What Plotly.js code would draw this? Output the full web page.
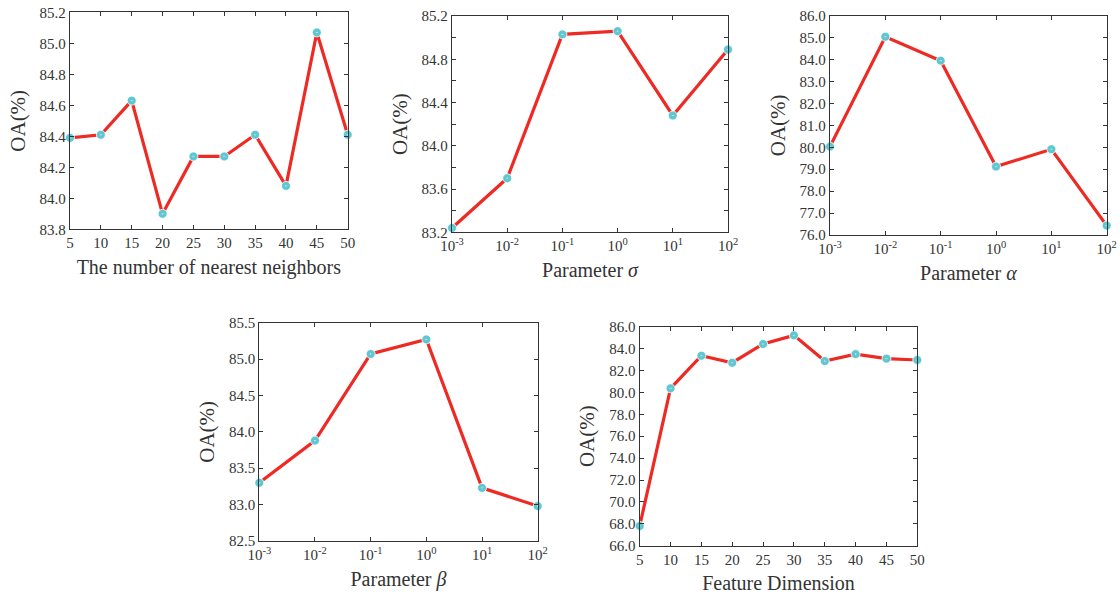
<!DOCTYPE html>
<html>
<head>
<meta charset="utf-8">
<script src="https://cdn.plot.ly/plotly-3.0.1.min.js"></script>
<style>html,body{margin:0;padding:0;background:#fff;}#chart{width:1120px;height:598px;}</style>
</head>
<body>
<div id="chart"></div>
<script>
// ---- data ----
const neighbors = [5, 10, 15, 20, 25, 30, 35, 40, 45, 50];
const oaNeighbors = [84.39, 84.41, 84.63, 83.90, 84.27, 84.27, 84.41, 84.08, 85.07, 84.41];

const paramValues = [0.001, 0.01, 0.1, 1, 10, 100];
const paramTickText = ['10<sup>-3</sup>', '10<sup>-2</sup>', '10<sup>-1</sup>', '10<sup>0</sup>', '10<sup>1</sup>', '10<sup>2</sup>'];
const oaSigma = [83.24, 83.70, 85.03, 85.06, 84.28, 84.89];
const oaAlpha = [80.03, 85.04, 83.95, 79.12, 79.91, 76.43];
const oaBeta = [83.30, 83.88, 85.07, 85.27, 83.23, 82.98];

const featureDims = [5, 10, 15, 20, 25, 30, 35, 40, 45, 50];
const oaFeature = [67.8, 80.37, 83.35, 82.71, 84.42, 85.21, 82.86, 83.50, 83.08, 82.96];

const xTitles = ['The number of nearest neighbors', 'Parameter <i>σ</i>', 'Parameter <i>α</i>', 'Parameter <i>β</i>', 'Feature Dimension'];

// y tick settings per panel: [start, dtick, minor dtick or null]
const yRanges = [[83.8, 85.2], [83.2, 85.2], [76, 86], [82.5, 85.5], [66, 86]];
const yTickSteps = [0.2, 0.4, 1, 0.5, 2];
const yMinorSteps = [null, 0.2, null, null, null];

// ---- styling ----
const W = 1120, H = 598;
const FONT = 'Liberation Serif';
const AX = '#333333';
const lineStyle = {color: '#ee2a24', width: 3.2};
const markerStyle = {symbol: 'circle-dot', size: 9, color: '#5fc7d1', line: {color: '#ffffff', width: 0.8}};

// pixel boxes [x0,x1,y0,y1]
const boxes = [
  [70, 347.7, 12.3, 229.3],
  [452, 728, 16, 232.3],
  [830, 1106.7, 15.7, 235],
  [259.3, 537.7, 322.7, 541],
  [639.7, 917.3, 326.7, 545.7]
];

const series = [
  {x: neighbors, y: oaNeighbors, log: false},
  {x: paramValues, y: oaSigma, log: true},
  {x: paramValues, y: oaAlpha, log: true},
  {x: paramValues, y: oaBeta, log: true},
  {x: featureDims, y: oaFeature, log: false}
];

const traces = [];
const layout = {
  width: W, height: H,
  margin: {l: 0, r: 0, t: 0, b: 0},
  paper_bgcolor: '#fff', plot_bgcolor: '#fff',
  showlegend: false,
  font: {family: FONT, color: AX, size: 15}
};

series.forEach((s, i) => {
  const k = i === 0 ? '' : String(i + 1);
  traces.push({
    x: s.x, y: s.y, type: 'scatter', mode: 'lines+markers',
    xaxis: 'x' + k, yaxis: 'y' + k,
    line: lineStyle, marker: markerStyle, cliponaxis: false, hoverinfo: 'x+y'
  });
  const b = boxes[i];
  const common = {
    showline: true, linecolor: AX, linewidth: 1.3, mirror: 'ticks',
    ticks: 'inside', ticklen: 4, tickwidth: 1, tickcolor: AX,
    showgrid: false, zeroline: false,
    tickfont: {family: FONT, size: 15, color: AX}
  };
  const xa = Object.assign({}, common, {
    domain: [b[0] / W, b[1] / W],
    anchor: 'y' + k,
    title: {text: xTitles[i], font: {family: FONT, size: 20, color: AX}, standoff: 9}
  });
  if (s.log) {
    Object.assign(xa, {type: 'log', range: [-3, 2], tickmode: 'array', tickvals: paramValues, ticktext: paramTickText});
  } else {
    Object.assign(xa, {range: [5, 50], tickmode: 'array', tickvals: s.x, ticktext: s.x.map(String)});
  }
  const ya = Object.assign({}, common, {
    domain: [1 - b[3] / H, 1 - b[2] / H],
    anchor: 'x' + k,
    range: yRanges[i],
    tickmode: 'linear', tick0: yRanges[i][0], dtick: yTickSteps[i], tickformat: '.1f',
    title: {text: 'OA(%)', font: {family: FONT, size: 21, color: AX}, standoff: 8}
  });
  if (yMinorSteps[i]) {
    ya.minor = {tick0: yRanges[i][0], dtick: yMinorSteps[i], ticks: 'inside', ticklen: 4, tickcolor: AX, tickwidth: 1, showgrid: false};
  }
  layout['xaxis' + k] = xa;
  layout['yaxis' + k] = ya;
});

Plotly.newPlot('chart', traces, layout, {displayModeBar: false, staticPlot: false});
</script>
</body>
</html>
